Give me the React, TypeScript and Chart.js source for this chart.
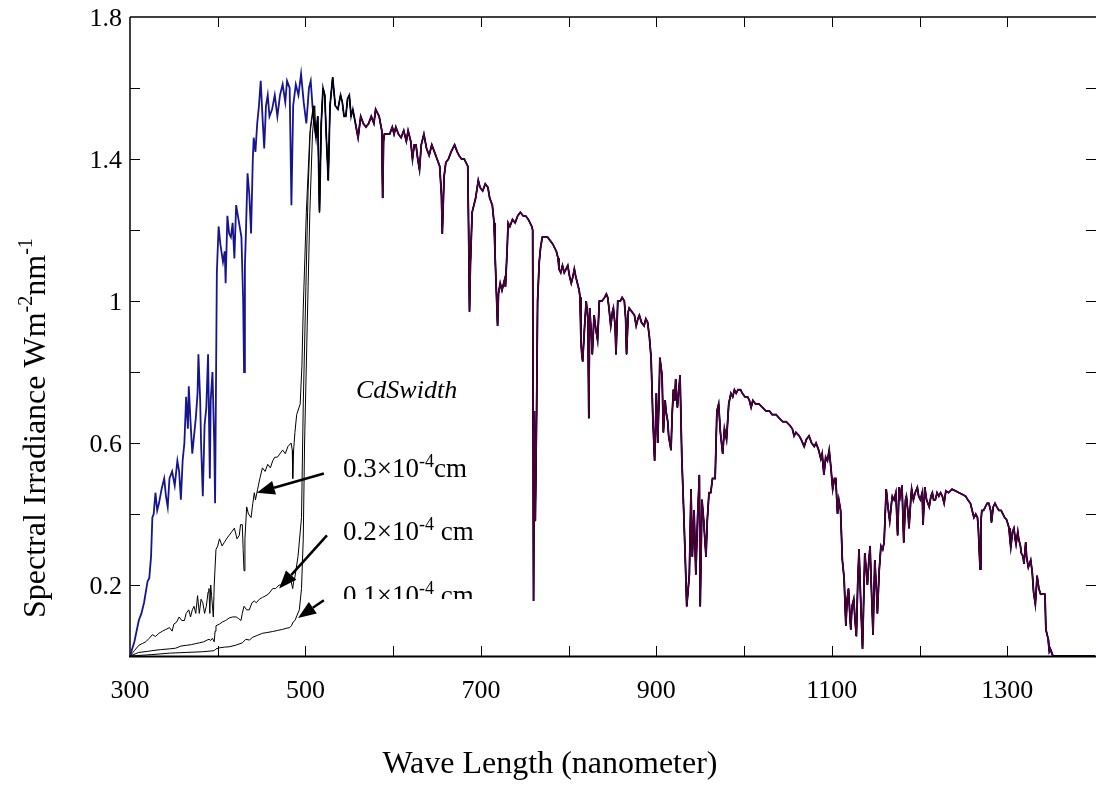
import React, { useEffect, useRef } from 'react';
import { Chart, registerables } from 'chart.js';

Chart.register(...registerables);

// ---- Data ----
// Full solar spectrum (nm) and spectral irradiance (W m^-2 nm^-1)
const wavelength = [
  300, 305, 310, 313, 316, 320, 322, 324, 325.5, 327, 329, 331, 333, 336, 339, 341, 343, 345, 348, 351,
  354, 356, 358, 360, 362, 364, 366, 367, 369, 371, 373, 375, 377, 378, 380, 381, 383, 385, 387, 389,
  391, 392, 394, 396, 397, 399, 401, 403, 406, 408, 409, 411, 413, 415, 417, 419, 421, 423, 425, 427,
  429, 430, 431, 432, 434, 436, 438, 440, 441, 443, 445, 447, 449, 451, 453, 455, 457, 459, 462, 465,
  468, 471, 474, 477, 479, 482, 484, 486, 489, 492, 495, 498, 501, 504, 506, 508, 510, 512, 514, 516,
  518, 520, 522, 524, 526, 528, 531, 534, 537, 540, 542, 544, 546, 548, 550, 552, 554, 557, 560, 563,
  566, 569, 572, 575, 578, 580, 584, 587, 588, 589, 590, 593, 596, 599, 601, 603, 606, 609, 612, 615,
  617, 620, 622, 624, 626, 628, 630, 632, 635, 638, 641, 644, 647, 650, 653, 655, 656, 658, 660, 663,
  666, 668, 670, 673, 675, 678, 681, 683, 685, 686, 687, 688, 690, 692, 694, 697, 699, 702, 705, 708,
  710, 713, 715, 716, 718, 719, 720, 722, 724, 725, 727, 728, 730, 731, 733, 736, 739, 742, 745, 748,
  751, 754, 756, 758, 759, 760, 761, 762, 763.5, 764.6, 766.5, 768, 770, 773, 776, 779, 782, 784, 786, 788,
  789, 791, 793, 795, 797, 799, 801, 803, 805, 806.5, 808, 810, 812, 813, 814, 815, 816, 818, 820, 822,
  823, 824, 826, 827, 829, 831, 833, 835, 838, 841, 843, 844.5, 846, 848, 850, 851, 853, 854, 856, 859,
  861, 863.5, 865, 866, 868, 869, 872, 875, 877, 879, 880.6, 883, 886, 888, 890, 892, 894, 896, 898, 900,
  901.5, 903, 904, 906.5, 908, 910, 911, 913, 914, 916.7, 918, 919.4, 921, 922, 924, 926, 927, 929, 931, 933,
  934.6, 936, 937.6, 939.5, 941, 943, 945, 947, 949, 950, 952, 954, 955, 956.6, 958, 960, 962, 964, 966, 967,
  969, 971, 973, 975.6, 977.6, 980, 982.5, 985, 987, 989, 991, 993, 996, 998, 1001, 1004, 1006, 1008, 1010, 1013,
  1017, 1021, 1025, 1029, 1032, 1036.5, 1040, 1044, 1048, 1052, 1055, 1057, 1059, 1062.8, 1065, 1068.5, 1071, 1074, 1077, 1080,
  1082, 1085, 1087.5, 1089, 1091, 1093, 1095, 1097, 1099, 1101, 1103, 1104.5, 1106.5, 1108, 1110, 1112, 1114, 1116, 1117.5, 1119,
  1120.5, 1121.6, 1123, 1125, 1126.5, 1128, 1129.5, 1131, 1133, 1135, 1137.6, 1139, 1140.6, 1142, 1143.6, 1145, 1147, 1149, 1151, 1152,
  1154, 1156, 1158, 1159.6, 1162, 1164, 1166, 1168, 1169, 1171, 1173, 1175, 1176.7, 1178, 1180, 1182, 1184, 1185, 1187, 1188,
  1190, 1191, 1193, 1195, 1197.5, 1199, 1201, 1203, 1204, 1206, 1208, 1211, 1213, 1214.6, 1216, 1218, 1220, 1222, 1224, 1226,
  1228, 1230, 1233, 1237, 1241, 1245, 1249, 1252.6, 1255, 1258, 1260, 1262, 1264, 1266, 1267, 1269, 1270, 1271, 1273, 1275,
  1277, 1279, 1281, 1282, 1284, 1286, 1288, 1290.5, 1293, 1295, 1297, 1299, 1301, 1302, 1303, 1304, 1306, 1307.6, 1309, 1310,
  1312, 1313, 1315, 1316, 1318, 1319, 1321, 1322, 1324, 1326.7, 1328.5, 1330, 1332, 1334, 1336, 1338, 1341, 1343, 1344, 1346.7,
  1348, 1349, 1352, 1400,
];
const irradiance = [
  0, 0.04, 0.1, 0.12, 0.15, 0.21, 0.22, 0.28, 0.39, 0.4, 0.46, 0.41, 0.43, 0.47, 0.5, 0.45, 0.42, 0.5, 0.52, 0.48,
  0.55, 0.52, 0.44, 0.55, 0.6, 0.73, 0.64, 0.76, 0.66, 0.57, 0.62, 0.67, 0.74, 0.85, 0.72, 0.6, 0.45, 0.65, 0.7, 0.85,
  0.5, 0.72, 0.8, 0.6, 0.43, 1.08, 1.21, 1.16, 1.11, 1.14, 1.05, 1.24, 1.19, 1.18, 1.22, 1.12, 1.27, 1.24, 1.21, 1.18,
  1.0, 0.8, 1.1, 1.18, 1.36, 1.3, 1.19, 1.4, 1.46, 1.42, 1.5, 1.55, 1.62, 1.52, 1.43, 1.55, 1.58, 1.52, 1.54, 1.58,
  1.52, 1.58, 1.61, 1.56, 1.62, 1.6, 1.27, 1.55, 1.61, 1.58, 1.64, 1.56, 1.5, 1.6, 1.62, 1.55, 1.5, 1.46, 1.52, 1.25,
  1.5, 1.6, 1.58, 1.45, 1.34, 1.55, 1.63, 1.55, 1.54, 1.58, 1.56, 1.52, 1.52, 1.57, 1.58, 1.52, 1.54, 1.5, 1.46, 1.52,
  1.5, 1.49, 1.5, 1.52, 1.5, 1.54, 1.52, 1.48, 1.29, 1.45, 1.47, 1.47, 1.47, 1.49, 1.47, 1.49, 1.47, 1.46, 1.48, 1.45,
  1.48, 1.45, 1.4, 1.44, 1.44, 1.4, 1.37, 1.44, 1.47, 1.43, 1.41, 1.44, 1.42, 1.4, 1.38, 1.3, 1.19, 1.35, 1.39, 1.4,
  1.42, 1.43, 1.44, 1.42, 1.41, 1.4, 1.4, 1.39, 1.38, 1.2, 0.97, 1.1, 1.25, 1.27, 1.29, 1.34, 1.32, 1.31, 1.33, 1.32,
  1.29, 1.27, 1.22, 1.14, 1.0, 0.93, 1.02, 1.05, 1.03, 1.04, 1.06, 1.04, 1.15, 1.22, 1.21, 1.23, 1.22, 1.24, 1.25, 1.24,
  1.24, 1.23, 1.22, 1.21, 1.2, 0.155, 0.69, 0.38, 0.69, 1.0, 1.11, 1.15, 1.18, 1.18, 1.18, 1.17, 1.16, 1.15, 1.14, 1.12,
  1.09, 1.08, 1.1, 1.08, 1.09, 1.1, 1.07, 1.05, 1.07, 1.09, 1.07, 1.05, 1.03, 1.01, 0.89, 0.85, 0.83, 0.92, 1.0, 0.95,
  0.67, 0.98, 0.9, 0.85, 0.96, 0.92, 0.89, 1.0, 1.0, 1.01, 1.02, 1.01, 0.98, 0.93, 0.97, 0.98, 0.93, 0.85, 1.0, 1.0,
  1.01, 1.0, 0.95, 0.85, 0.97, 0.98, 0.97, 0.96, 0.93, 0.95, 0.96, 0.94, 0.93, 0.95, 0.94, 0.9, 0.84, 0.67, 0.55, 0.74,
  0.6, 0.72, 0.84, 0.79, 0.63, 0.72, 0.69, 0.66, 0.62, 0.58, 0.68, 0.75, 0.72, 0.78, 0.7, 0.76, 0.79, 0.56, 0.42, 0.27,
  0.14, 0.18, 0.23, 0.47, 0.28, 0.41, 0.23, 0.39, 0.51, 0.14, 0.44, 0.38, 0.34, 0.28, 0.38, 0.46, 0.46, 0.5, 0.5, 0.5,
  0.69, 0.71, 0.63, 0.57, 0.64, 0.61, 0.71, 0.74, 0.73, 0.75, 0.74, 0.75, 0.75, 0.74, 0.73, 0.73, 0.72, 0.7, 0.72, 0.71,
  0.71, 0.7, 0.69, 0.69, 0.68, 0.68, 0.67, 0.66, 0.66, 0.65, 0.64, 0.62, 0.63, 0.62, 0.61, 0.59, 0.61, 0.62, 0.6, 0.59,
  0.6, 0.58, 0.555, 0.57, 0.51, 0.56, 0.55, 0.58, 0.53, 0.47, 0.5, 0.5, 0.4, 0.44, 0.41, 0.27, 0.22, 0.085, 0.16, 0.19,
  0.12, 0.075, 0.14, 0.16, 0.1, 0.056, 0.2, 0.3, 0.15, 0.02, 0.29, 0.25, 0.2, 0.26, 0.31, 0.2, 0.06, 0.27, 0.18, 0.12,
  0.24, 0.31, 0.3, 0.32, 0.47, 0.42, 0.38, 0.43, 0.45, 0.44, 0.46, 0.34, 0.475, 0.45, 0.48, 0.32, 0.44, 0.45, 0.4, 0.36,
  0.44, 0.47, 0.44, 0.46, 0.475, 0.45, 0.44, 0.46, 0.37, 0.475, 0.44, 0.42, 0.45, 0.46, 0.44, 0.44, 0.46, 0.45, 0.46, 0.45,
  0.43, 0.465, 0.46, 0.47, 0.465, 0.46, 0.455, 0.45, 0.44, 0.43, 0.41, 0.39, 0.4, 0.39, 0.36, 0.245, 0.38, 0.41, 0.41, 0.42,
  0.43, 0.43, 0.41, 0.376, 0.42, 0.43, 0.42, 0.41, 0.41, 0.4, 0.39, 0.385, 0.37, 0.36, 0.33, 0.306, 0.35, 0.36, 0.33, 0.315,
  0.35, 0.33, 0.31, 0.29, 0.28, 0.26, 0.32, 0.28, 0.25, 0.27, 0.235, 0.18, 0.146, 0.226, 0.19, 0.174, 0.175, 0.174, 0.075, 0.047,
  0.014, 0.02, 0, 0,
];

// Spectra transmitted through CdS windows of three widths (short-wavelength part)
const cds03Wavelength = [
  300, 305, 310, 314, 318, 322, 325.5, 329, 333, 337, 341, 345, 348, 350, 353, 356, 359, 362, 364, 367,
  369, 371, 373, 375, 377, 379, 381, 383, 385, 387, 389, 390, 391, 392, 393, 395, 396, 398, 400, 402,
  405, 407.5, 410, 413, 416, 419, 422, 424.6, 426, 428, 429, 430, 431, 433, 435, 438, 440, 441.7, 443, 445.5,
  448, 451, 454, 457, 460, 462.7, 465, 468, 471, 474, 477, 480, 483.6, 485, 485.5, 486.5, 488, 490, 494, 496,
  497.5, 501, 505, 509,
];
const cds03Irradiance = [
  0, 0.015, 0.03, 0.035, 0.04, 0.05, 0.06, 0.055, 0.064, 0.07, 0.075, 0.08, 0.07, 0.09, 0.095, 0.11, 0.1, 0.1, 0.12, 0.13,
  0.11, 0.13, 0.14, 0.12, 0.17, 0.12, 0.16, 0.15, 0.12, 0.14, 0.18, 0.19, 0.12, 0.2, 0.17, 0.11, 0.2, 0.3, 0.31, 0.33,
  0.31, 0.32, 0.33, 0.34, 0.35, 0.36, 0.33, 0.34, 0.37, 0.37, 0.3, 0.24, 0.33, 0.42, 0.4, 0.39, 0.43, 0.46, 0.44, 0.47,
  0.5, 0.53, 0.52, 0.54, 0.53, 0.55, 0.56, 0.56, 0.57, 0.58, 0.57, 0.59, 0.6, 0.58, 0.5, 0.58, 0.63, 0.68, 0.71, 0.82,
  0.98, 1.25, 1.47, 1.54,
];
const cds02Wavelength = [
  300, 310, 320, 325, 335, 344.6, 352, 358, 364, 370, 375, 379, 384, 388, 390, 392, 394, 396, 397, 398,
  402, 405.5, 409, 413, 417, 421, 424, 426.5, 428, 430, 433, 436, 439, 441.7, 444, 447.5, 451, 455, 458, 462.7,
  466, 470, 474, 478, 481, 483.6, 485.5, 486.5, 487.5, 491.5, 495.5, 497.5, 500.5, 503, 505.6, 509,
];
const cds02Irradiance = [
  0, 0.01, 0.013, 0.015, 0.018, 0.02, 0.022, 0.028, 0.03, 0.032, 0.035, 0.037, 0.04, 0.045, 0.047, 0.044, 0.05, 0.04, 0.07, 0.085,
  0.09, 0.096, 0.1, 0.107, 0.11, 0.11, 0.105, 0.1, 0.12, 0.14, 0.13, 0.13, 0.15, 0.155, 0.15, 0.16, 0.165, 0.17, 0.175, 0.19,
  0.19, 0.2, 0.2, 0.204, 0.21, 0.21, 0.19, 0.21, 0.215, 0.28, 0.39, 0.71, 1.04, 1.31, 1.49, 1.55,
];
const cds01Wavelength = [
  300, 325, 345, 364, 383, 396, 398, 402, 408, 413, 420, 428, 432, 436, 440, 445, 451, 456, 462.7, 468,
  474, 478, 482, 484, 486, 488, 493, 495.5, 497.5, 499, 502, 505, 508, 510.6,
];
const cds01Irradiance = [
  0, 0.004, 0.008, 0.01, 0.012, 0.015, 0.02, 0.023, 0.025, 0.026, 0.03, 0.037, 0.047, 0.045, 0.053, 0.058, 0.064, 0.066, 0.069, 0.072,
  0.075, 0.078, 0.08, 0.085, 0.096, 0.1, 0.13, 0.19, 0.33, 0.6, 0.93, 1.25, 1.47, 1.55,
];

// Axis ticks
const xTickLabels = ['300', '500', '700', '900', '1100', '1300'];
const xTickMarks = [400, 500, 600, 700, 800, 900, 1000, 1100, 1200, 1300];
const yTickLabels = ['0.2', '0.6', '1', '1.4', '1.8'];
const yTickMarks = [0.2, 0.4, 0.6, 0.8, 1.0, 1.2, 1.4, 1.6];

// Annotation labels and arrows (data coordinates: nm, irradiance)
const annotationTitle = 'CdSwidth';
const annotationLabels = [
  ['0.3×10', '-4', 'cm'],
  ['0.2×10', '-4', ' cm'],
  ['0.1×10', '-4', ' cm'],
];
const arrowTails = [[521, 0.514], [524.5, 0.34], [521, 0.157]];
const arrowTips = [[444.5, 0.46], [470, 0.19], [491.5, 0.107]];

const FONT = '"Liberation Serif", "Times New Roman", serif';

function toPoints(xs: number[], ys: number[]) {
  return xs.map((x, i) => ({ x, y: ys[i] }));
}
function withMainTail(xs: number[], ys: number[]) {
  const last = xs[xs.length - 1];
  return [...toPoints(xs, ys), ...toPoints(wavelength, irradiance).filter((p) => p.x > last)];
}

function drawRich(ctx: CanvasRenderingContext2D, parts: string[], x: number, y: number, size: number, supSize: number, rise: number) {
  let cx = x;
  parts.forEach((t, i) => {
    const sup = i % 2 === 1;
    ctx.font = `${sup ? supSize : size}px ${FONT}`;
    ctx.fillText(t, cx, sup ? y - rise : y);
    cx += ctx.measureText(t).width;
  });
}

const decorPlugin = {
  id: 'decor',
  beforeDatasetsDraw(chart: any) {
    const { ctx, chartArea, scales } = chart;
    const { left, right, top, bottom } = chartArea;
    const xs = scales.x;
    const ys = scales.y;
    ctx.save();
    ctx.strokeStyle = '#000';
    // tick marks (inward)
    ctx.lineWidth = 1;
    ctx.beginPath();
    xTickMarks.forEach((v) => {
      const px = Math.round(xs.getPixelForValue(v)) + 0.5;
      ctx.moveTo(px, bottom);
      ctx.lineTo(px, bottom - 10);
      ctx.moveTo(px, top);
      ctx.lineTo(px, top + 10);
    });
    yTickMarks.forEach((v) => {
      const py = Math.round(ys.getPixelForValue(v)) + 0.5;
      ctx.moveTo(left, py);
      ctx.lineTo(left + 10, py);
      ctx.moveTo(right + 1, py);
      ctx.lineTo(right - 9, py);
    });
    ctx.stroke();
    // frame (left, top, bottom)
    ctx.lineWidth = 1.5;
    ctx.beginPath();
    ctx.moveTo(left, top);
    ctx.lineTo(right + 1, top);
    ctx.moveTo(left, top);
    ctx.lineTo(left, bottom);
    ctx.stroke();
    ctx.lineWidth = 2;
    ctx.beginPath();
    ctx.moveTo(left - 1, bottom + 0.5);
    ctx.lineTo(right + 1, bottom + 0.5);
    ctx.stroke();
    ctx.restore();
  },
  afterDatasetsDraw(chart: any) {
    const { ctx, chartArea, scales } = chart;
    const { left } = chartArea;
    const xs = scales.x;
    const ys = scales.y;
    ctx.save();
    ctx.strokeStyle = '#000';
    ctx.fillStyle = '#000';

    // arrows
    arrowTails.forEach((tail, i) => {
      const tip = arrowTips[i];
      const x1 = xs.getPixelForValue(tail[0]);
      const y1 = ys.getPixelForValue(tail[1]);
      const x2 = xs.getPixelForValue(tip[0]);
      const y2 = ys.getPixelForValue(tip[1]);
      const ang = Math.atan2(y2 - y1, x2 - x1);
      const headLen = 18;
      const headW = 7;
      const bx = x2 - headLen * Math.cos(ang);
      const by = y2 - headLen * Math.sin(ang);
      ctx.lineWidth = 2.5;
      ctx.beginPath();
      ctx.moveTo(x1, y1);
      ctx.lineTo(bx, by);
      ctx.stroke();
      ctx.beginPath();
      ctx.moveTo(x2, y2);
      ctx.lineTo(bx + headW * Math.sin(ang), by - headW * Math.cos(ang));
      ctx.lineTo(bx - headW * Math.sin(ang), by + headW * Math.cos(ang));
      ctx.closePath();
      ctx.fill();
    });

    // tick labels
    ctx.font = `26px ${FONT}`;
    ctx.textAlign = 'center';
    ctx.textBaseline = 'alphabetic';
    xTickLabels.forEach((t) => {
      ctx.fillText(t, xs.getPixelForValue(Number(t)), 698);
    });
    ctx.textAlign = 'right';
    ctx.textBaseline = 'middle';
    yTickLabels.forEach((t) => {
      ctx.fillText(t, left - 8, ys.getPixelForValue(Number(t)) + 2);
    });

    // axis titles
    ctx.textAlign = 'center';
    ctx.textBaseline = 'alphabetic';
    ctx.font = `32px ${FONT}`;
    ctx.fillText('Wave Length (nanometer)', 550, 773);

    ctx.save();
    ctx.translate(45, 618);
    ctx.rotate(-Math.PI / 2);
    ctx.textAlign = 'left';
    drawRich(ctx, ['Spectral Irradiance Wm', '-2', 'nm', '-1'], 0, 0, 32, 20, 13);
    ctx.restore();

    // annotation text
    ctx.textAlign = 'left';
    ctx.font = `italic 26px ${FONT}`;
    ctx.fillText(annotationTitle, 356, 398);
    ctx.save();
    ctx.beginPath();
    ctx.rect(0, 0, chart.width, 599);
    ctx.clip();
    const baselines = [477, 540, 604];
    annotationLabels.forEach((parts, i) => {
      drawRich(ctx, parts, 343, baselines[i], 27, 18, 10);
    });
    ctx.restore();

    ctx.restore();
  },
};

export default function App() {
  const canvasRef = useRef<HTMLCanvasElement | null>(null);

  useEffect(() => {
    const canvas = canvasRef.current;
    if (!canvas) return;
    const main = toPoints(wavelength, irradiance);
    const chart = new Chart(canvas, {
      type: 'line',
      data: {
        datasets: [
          {
            label: 'overlay',
            data: main.filter((p) => p.x >= 556 && p.x <= 1352),
            borderColor: '#4a0034',
            borderWidth: 1.6,
            order: 0,
          },
          {
            label: '0.1e-4 cm',
            data: withMainTail(cds01Wavelength, cds01Irradiance),
            borderColor: '#000000',
            borderWidth: 1,
            order: 1,
          },
          {
            label: '0.2e-4 cm',
            data: withMainTail(cds02Wavelength, cds02Irradiance),
            borderColor: '#000000',
            borderWidth: 1,
            order: 2,
          },
          {
            label: '0.3e-4 cm',
            data: withMainTail(cds03Wavelength, cds03Irradiance),
            borderColor: '#000000',
            borderWidth: 1,
            order: 3,
          },
          {
            label: 'tail',
            data: main.filter((p) => p.x >= 1346),
            borderColor: '#3a12cc',
            borderWidth: 2,
            order: 4,
          },
          {
            label: 'AM1.5',
            data: main,
            borderColor: '#16148e',
            borderWidth: 1.8,
            order: 5,
          },
        ],
      },
      options: {
        responsive: false,
        animation: false,
        events: [],
        layout: { padding: { left: 130, right: 1, top: 17, bottom: 129 } },
        elements: {
          point: { radius: 0 },
          line: { tension: 0, fill: false },
        },
        plugins: {
          legend: { display: false },
          tooltip: { enabled: false },
        },
        scales: {
          x: { type: 'linear', min: 300, max: 1400, display: false },
          y: { type: 'linear', min: 0, max: 1.8, display: false },
        },
      },
      plugins: [decorPlugin],
    });
    return () => chart.destroy();
  }, []);

  return (
    <div style={{ position: 'absolute', left: 0, top: 0, width: 1096, height: 785, background: '#fff' }}>
      <canvas ref={canvasRef} width={1096} height={785} style={{ display: 'block' }} />
    </div>
  );
}
